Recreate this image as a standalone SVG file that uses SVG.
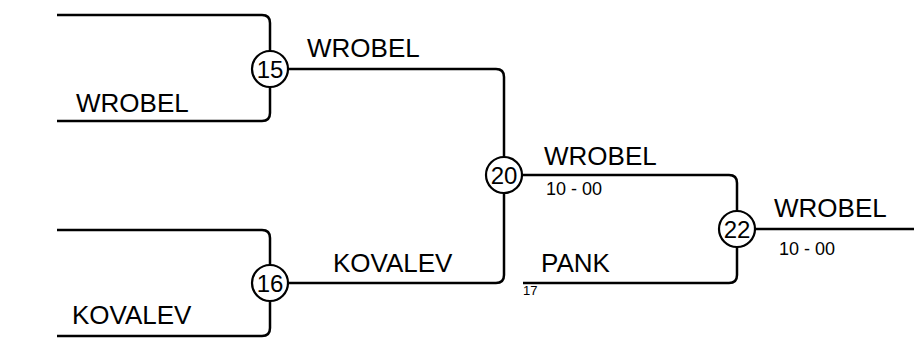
<svg xmlns="http://www.w3.org/2000/svg" width="914" height="338" viewBox="0 0 914 338">
<style>
.ln{fill:none;stroke:#000;stroke-width:2.5}
.c{fill:#fff;stroke:#000;stroke-width:2.2}
.n{font-family:"Liberation Sans",Arial,sans-serif;font-size:24px;text-anchor:middle;fill:#000}
.t{font-family:"Liberation Sans",Arial,sans-serif;font-size:26px;fill:#000}
.s{font-family:"Liberation Sans",Arial,sans-serif;font-size:18px;fill:#000}
.x{font-family:"Liberation Sans",Arial,sans-serif;font-size:13px;fill:#000}
</style>
<rect width="914" height="338" fill="#fff"/>
<g id="connectors">
<path class="ln" d="M57,15 H262 Q270,15 270,23 V51"/>
<path class="ln" d="M270,87 V113 Q270,121 262,121 H57"/>
<path class="ln" d="M288,69 H496 Q504,69 504,77 V157"/>
<path class="ln" d="M504,193 V275 Q504,283 496,283 H288"/>
<path class="ln" d="M522,175 H729 Q737,175 737,183 V211"/>
<path class="ln" d="M737,247 V275 Q737,283 729,283 H523"/>
<path class="ln" d="M755,229 H914"/>
<path class="ln" d="M57,230 H262 Q270,230 270,238 V265"/>
<path class="ln" d="M270,301 V328 Q270,336 262,336 H57"/>
</g>
<g id="labels">
<text class="t" x="307" y="57">WROBEL</text>
<text class="t" x="76" y="112">WROBEL</text>
<text class="t" x="544" y="165">WROBEL</text>
<text class="s" x="546" y="195">10 - 00</text>
<text class="t" x="333" y="272">KOVALEV</text>
<text class="t" x="541" y="272">PANK</text>
<text class="x" x="523" y="295">17</text>
<text class="t" x="72" y="324">KOVALEV</text>
<text class="t" x="774" y="217">WROBEL</text>
<text class="s" x="779" y="255">10 - 00</text>
</g>
<g id="node15"><circle class="c" cx="270" cy="69" r="18"/><text class="n" x="270" y="77.5">15</text></g>
<g id="node16"><circle class="c" cx="270" cy="283" r="18"/><text class="n" x="270" y="291.5">16</text></g>
<g id="node20"><circle class="c" cx="504" cy="175" r="18"/><text class="n" x="504" y="183.5">20</text></g>
<g id="node22"><circle class="c" cx="737" cy="229" r="18"/><text class="n" x="737" y="237.5">22</text></g>
</svg>
